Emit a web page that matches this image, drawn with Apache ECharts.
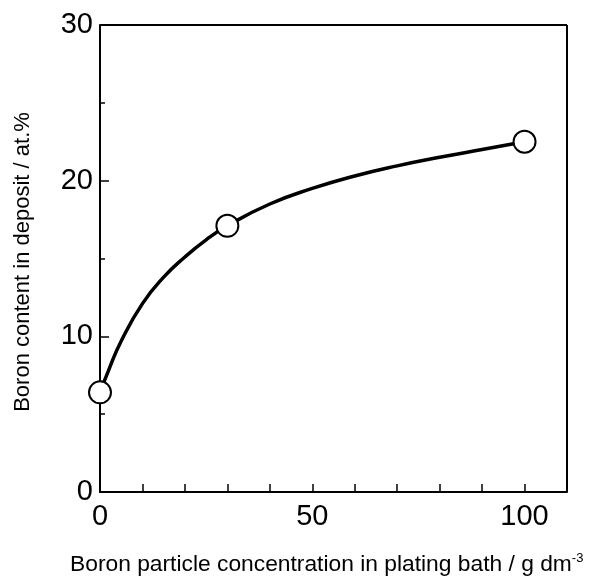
<!DOCTYPE html>
<html>
<head>
<meta charset="utf-8">
<script src="https://cdn.jsdelivr.net/npm/echarts@6/dist/echarts.min.js"></script>
<style>
    html, body { margin: 0; padding: 0; background: #fff; }
    #chart { width: 593px; height: 576px; }
</style>
</head>
<body>
<div id="chart"></div>
<script>
// measured points (boron particle conc. g dm-3 / boron content at.%)
var pointX = [0, 30, 100];
var pointY = [6.4, 17.1, 22.5];

// fitted curve
var curveX = [0, 2, 5, 10, 15, 20, 25, 30, 40, 50, 60, 70, 80, 90, 100];
var curveY = [6.4, 7.8, 9.7, 12.1, 13.8, 15.1, 16.2, 17.1, 18.5, 19.5, 20.3, 20.95, 21.5, 22.0, 22.5];

var xName = 'Boron particle concentration in plating bath / g dm';
var yName = 'Boron content in deposit / at.%';

function pairs(xs, ys) {
    var out = [];
    for (var i = 0; i < xs.length; i++) {
        out.push([xs[i], ys[i]]);
    }
    return out;
}

var myChart = echarts.init(document.getElementById('chart'));
var font = 'Liberation Sans, Arial, sans-serif';

var option = {
    animation: false,
    grid: {left: 100, right: 26, top: 25, bottom: 84},
    xAxis: {
        type: 'value',
        min: 0,
        max: 110,
        interval: 10,
        axisLine: {show: true, onZero: false, lineStyle: {color: '#000', width: 2}},
        axisTick: {show: true, inside: true, length: 8, lineStyle: {color: '#000', width: 1.5}},
        axisLabel: {
            margin: 10,
            color: '#000',
            fontSize: 29,
            fontFamily: font,
            formatter: function (v) {
                return (v % 50 === 0) ? String(v) : '';
            }
        },
        splitLine: {show: false}
    },
    yAxis: {
        type: 'value',
        min: 0,
        max: 30,
        interval: 10,
        axisLine: {show: true, onZero: false, lineStyle: {color: '#000', width: 2}},
        axisTick: {show: true, inside: true, length: 9, lineStyle: {color: '#000', width: 1.5}},
        minorTick: {show: true, splitNumber: 2, length: 5, lineStyle: {color: '#000', width: 1.5}},
        axisLabel: {margin: 7, color: '#000', fontSize: 29, fontFamily: font},
        splitLine: {show: false}
    },
    graphic: [
        // top and right frame
        {type: 'line', shape: {x1: 100, y1: 25, x2: 567, y2: 25}, style: {stroke: '#000', lineWidth: 2}},
        {type: 'line', shape: {x1: 567, y1: 25, x2: 567, y2: 492}, style: {stroke: '#000', lineWidth: 2}},
        {
            type: 'text',
            left: 70,
            top: 552,
            style: {
                text: '{a|' + xName + '}{s|-3}',
                rich: {
                    a: {fontSize: 22.8, fontFamily: font, fill: '#000'},
                    s: {fontSize: 13, fontFamily: font, fill: '#000', verticalAlign: 'top', padding: [0, 0, 12, 0]}
                }
            }
        },
        {
            type: 'text',
            x: 23,
            y: 262,
            rotation: Math.PI / 2,
            style: {
                text: yName,
                fontSize: 22,
                fontFamily: font,
                fill: '#000',
                align: 'center',
                verticalAlign: 'middle'
            }
        }
    ],
    series: [
        {
            type: 'line',
            data: pairs(curveX, curveY),
            smooth: 0.5,
            showSymbol: false,
            lineStyle: {color: '#000', width: 3.5},
            z: 2
        },
        {
            type: 'scatter',
            data: pairs(pointX, pointY),
            symbol: 'circle',
            symbolSize: 22,
            itemStyle: {color: '#fff', borderColor: '#000', borderWidth: 2, opacity: 1},
            z: 3
        }
    ]
};

myChart.setOption(option);
</script>
</body>
</html>
